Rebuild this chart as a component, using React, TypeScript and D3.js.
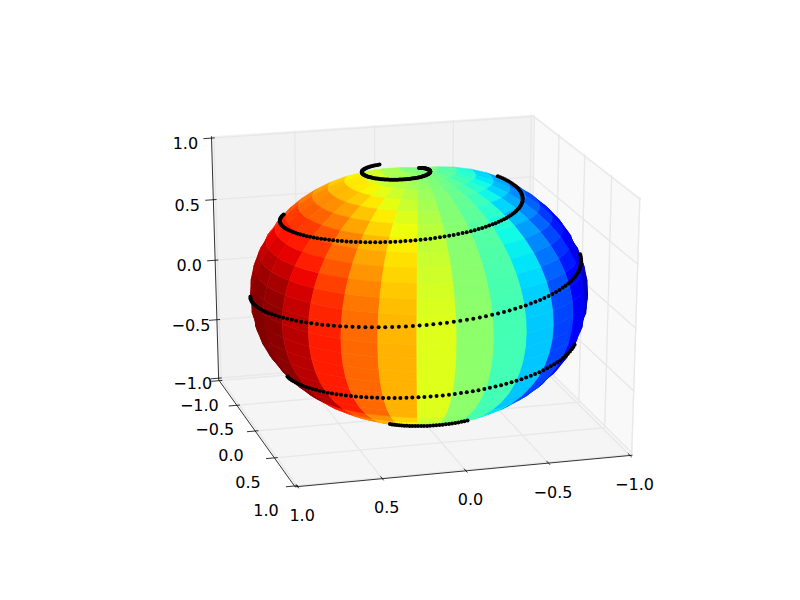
import React from "react";
import * as d3 from "d3";

const xTicks = [1, 0.5, 0, -0.5, -1];
const yTicks = [-1, -0.5, 0, 0.5, 1];
const zTicks = [-1, -0.5, 0, 0.5, 1];
const fmt = (v: number) => v.toFixed(1).replace("-", "\u2212");

const lonEdges = [-29.05, -16.2, -3.34, 9.52, 22.37, 35.23, 48.09, 60.95, 73.8, 86.66, 99.52, 112.37, 125.23, 138.09, 150.95, 163.8, 176.66, 189.5];
const bandAmp = [0.90, 0.975, 1, 0.98, 0.90, 0.76, 0.60, 0.44, 0.24, 0.04, -0.14, -0.36, -0.62, -0.78, -0.90, -0.975, -1];
const latEdges = [90, 83.57, 77.14, 70.71, 64.29, 57.86, 51.43, 45, 38.57, 32.14, 25.71, 19.29, 12.86, 6.43, 0, -6.43, -12.86, -19.29, -25.71, -32.14, -38.57, -45, -51.43, -57.86, -64.29, -70.71, -77.14, -83.57, -90];
const rowAmp = [0, 0.11, 0.22, 0.33, 0.43, 0.53, 0.62, 0.71, 0.78, 0.84, 0.90, 0.95, 0.98, 0.99, 1, 1, 1, 1, 1, 1, 1, 0.85, 0.72, 0.72, 0.5, 0.5, 0.3, 0.3];

// latitude of every sampled point of the spiral on the visible side, turn by turn
const turnA = [90.00, 89.77, 89.55, 89.32, 89.10, 88.87, 88.65, 88.42, 88.20, 87.97, 87.75, 87.52, 87.30, 87.07, 86.85, 86.62, 86.40, 86.17, 85.95, 85.72, 85.49, 85.27, 85.04, 84.82, 84.59, 84.37, 84.14, 83.92, 83.69, 83.47, 83.24, 83.02, 82.79, 82.57, 82.34, 82.12, 81.89, 81.66, 81.44, 81.21, 80.99, 80.76, 80.54, 80.31, 80.09, 79.86, 79.64, 79.41, 79.19, 78.96, 78.74, 78.51, 78.29, 78.06, 77.83, 77.61, 77.38, 77.16, 76.93, 76.71, 76.48, 76.26, 76.03, 75.81, 75.58, 75.36, 75.13, 74.91, 74.68, 74.46, 74.23, 74.00, 73.78, 73.55, 73.33, 73.10, 72.88, 72.65, 72.43, 72.20, 71.98, 71.75, 71.53, 71.30, 71.08, 70.85, 70.63, 70.40, 70.17, 69.95, 69.72, 69.50, 69.27, 69.05, 68.82, 68.60, 68.37, 68.15, 67.92, 67.70, 67.47, 67.25, 67.02, 66.80, 66.57, 66.35, 66.12, 65.90, 65.67];
const turnB = [56.43, 56.21, 55.98, 55.76, 55.53, 55.31, 55.08, 54.86, 54.63, 54.41, 54.18, 53.96, 53.73, 53.50, 53.28, 53.05, 52.83, 52.60, 52.38, 52.15, 51.93, 51.70, 51.48, 51.25, 51.03, 50.80, 50.58, 50.35, 50.13, 49.90, 49.67, 49.45, 49.22, 49.00, 48.77, 48.55, 48.32, 48.10, 47.87, 47.65, 47.42, 47.20, 46.97, 46.75, 46.52, 46.30, 46.07, 45.84, 45.62, 45.39, 45.17, 44.94, 44.72, 44.49, 44.27, 44.04, 43.82, 43.59, 43.37, 43.14, 42.92, 42.69, 42.47, 42.24, 42.01, 41.79, 41.56, 41.34, 41.11, 40.89, 40.66, 40.44, 40.21, 39.99, 39.76, 39.54, 39.31, 39.09, 38.86, 38.64, 38.41, 38.18, 37.96, 37.73, 37.51, 37.28, 37.06, 36.83, 36.61, 36.38, 36.16, 35.93, 35.71, 35.48, 35.26, 35.03, 34.81, 34.58, 34.35, 34.13, 33.90, 33.68, 33.45, 33.23, 33.00, 32.78];
const turnC = [17.46, 17.23, 17.01, 16.78, 16.56, 16.33, 16.11, 15.88, 15.66, 15.43, 15.21, 14.98, 14.75, 14.53, 14.30, 14.08, 13.85, 13.63, 13.40, 13.18, 12.95, 12.73, 12.50, 12.28, 12.05, 11.83, 11.60, 11.37, 11.15, 10.92, 10.70, 10.47, 10.25, 10.02, 9.80, 9.57, 9.35, 9.12, 8.90, 8.67, 8.45, 8.22, 8.00, 7.77, 7.54, 7.32, 7.09, 6.87, 6.64, 6.42, 6.19, 5.97, 5.74, 5.52, 5.29, 5.07, 4.84, 4.62, 4.39, 4.17, 3.94, 3.71, 3.49, 3.26, 3.04, 2.81, 2.59, 2.36, 2.14, 1.91, 1.69, 1.46, 1.24, 1.01, 0.79, 0.56, 0.34, 0.11, -0.11, -0.34, -0.56, -0.79, -1.01, -1.24];
const turnD = [-19.94, -20.16, -20.39, -20.61, -20.84, -21.06, -21.29, -21.51, -21.74, -21.96, -22.19, -22.41, -22.64, -22.86, -23.09, -23.31, -23.54, -23.76, -23.99, -24.21, -24.44, -24.66, -24.89, -25.12, -25.34, -25.57, -25.79, -26.02, -26.24, -26.47, -26.69, -26.92, -27.15, -27.37, -27.60, -27.82, -28.05, -28.27, -28.50, -28.72, -28.95, -29.17, -29.40, -29.62, -29.85, -30.07, -30.30, -30.52, -30.75, -30.98, -31.20, -31.43, -31.65, -31.88, -32.10, -32.33, -32.55, -32.78, -33.00, -33.23, -33.45, -33.68, -33.90, -34.13, -34.35, -34.58, -34.81, -35.03, -35.26, -35.48, -35.71];
const turnE = [-60.26, -60.49, -60.71, -60.94, -61.16, -61.39, -61.61, -61.84, -62.07, -62.29, -62.52, -62.74, -62.97, -63.19, -63.42, -63.64, -63.87, -64.09, -64.32, -64.54, -64.77, -64.99, -65.22, -65.44, -65.67, -65.89, -66.12, -66.34, -66.57, -66.79, -67.02, -67.24, -67.47];
const spiralLat = [...turnA, ...turnB, ...turnC, ...turnD, ...turnE];
const WINDING = 10, SPIRAL_PHASE = -727.5;

const ELEV = 21.5, AZIM = 74.5, DIST = 10, LIM = 1.015;
const el = (ELEV * Math.PI) / 180, az = (AZIM * Math.PI) / 180;
const n = [Math.cos(el) * Math.cos(az), Math.cos(el) * Math.sin(az), Math.sin(el)];
const u = [-Math.sin(az), Math.cos(az), 0];
const v = [n[1] * u[2] - n[2] * u[1], n[2] * u[0] - n[0] * u[2], n[0] * u[1] - n[1] * u[0]];
const dot = (a: number[], b: number[]) => a[0] * b[0] + a[1] * b[1] + a[2] * b[2];

const sx = d3.scaleLinear().domain([-0.05, 0.05]).range([419 - 171, 419 + 171]);
const sy = d3.scaleLinear().domain([-0.05, 0.05]).range([293.5 + 134.5, 293.5 - 134.5]);
const yLabelShift = d3.scaleLinear().domain([-1, 1]).range([-12, -20]);

function proj(x: number, y: number, z: number): [number, number] {
  const p = [x / LIM / 2, y / LIM / 2, z / LIM / 2];
  const w = DIST - dot(p, n);
  return [sx(dot(p, u) / w), sy(dot(p, v) / w)];
}
const path = (pts: [number, number, number][]) =>
  d3.line()(pts.map((p) => proj(p[0], p[1], p[2]))) as string;
const rad = (d: number) => (d * Math.PI) / 180;
const sph = (lat: number, lon: number): [number, number, number] => [
  Math.cos(rad(lat)) * Math.cos(rad(lon)),
  Math.cos(rad(lat)) * Math.sin(rad(lon)),
  Math.sin(rad(lat)),
];
const jetR = d3.scaleLinear().domain([0, 0.35, 0.66, 0.89, 1]).range([0, 0, 1, 1, 0.5]);
const jetG = d3.scaleLinear().domain([0, 0.125, 0.375, 0.64, 0.91, 1]).range([0, 0, 1, 1, 0, 0]);
const jetB = d3.scaleLinear().domain([0, 0.11, 0.34, 0.65, 1]).range([0.5, 1, 1, 0, 0]);
const jet = (t: number) => `rgb(${jetR(t) * 255},${jetG(t) * 255},${jetB(t) * 255})`;

const LO = LIM, HI = LIM;
export default function App() {
  const faces: { d: string; c: string; depth: number }[] = [];
  for (let j = 0; j < rowAmp.length; j++)
    for (let i = 0; i < bandAmp.length; i++) {
      const a = latEdges[j], b = latEdges[j + 1], l0 = lonEdges[i], l1 = lonEdges[i + 1];
      const depth = dot(sph((a + b) / 2, (l0 + l1) / 2), n);
      if (depth < -0.25) continue;
      faces.push({
        d: path([sph(a, l0), sph(a, (l0 + l1) / 2), sph(a, l1), sph(b, l1), sph(b, (l0 + l1) / 2), sph(b, l0)]) + "Z",
        c: jet(0.5 + 0.5 * bandAmp[i] * rowAmp[j]),
        depth,
      });
    }
  faces.sort((p, q) => p.depth - q.depth);
  const dots = spiralLat
    .map((lat) => sph(lat, WINDING * lat + SPIRAL_PHASE))
    .filter((s) => dot(s, n) > 0);
  return (
    <svg width={800} height={600} style={{ position: "absolute", left: 0, top: 0 }}>
      <rect width={800} height={600} fill="#fff" />
      <path d={path([[-LO, -LO, -LO], [LO, -LO, -LO], [LO, -LO, HI], [-LO, -LO, HI]]) + "Z"} fill="#f2f2f2" />
      <path d={path([[-LO, -LO, -LO], [-LO, HI, -LO], [-LO, HI, HI], [-LO, -LO, HI]]) + "Z"} fill="#f9f9f9" />
      <path d={path([[-LO, -LO, -LO], [LO, -LO, -LO], [LO, HI, -LO], [-LO, HI, -LO]]) + "Z"} fill="#f5f5f5" />
      <g fill="none" stroke="#e8e8e8" strokeWidth={1.4}>
        {xTicks.map((t) => <path key={"gx" + t} d={path([[t, HI, -LO], [t, -LO, -LO], [t, -LO, HI]])} />)}
        {yTicks.map((t) => <path key={"gy" + t} d={path([[HI, t, -LO], [-LO, t, -LO], [-LO, t, HI]])} />)}
        {zTicks.map((t) => <path key={"gz" + t} d={path([[HI, -LO, t], [-LO, -LO, t], [-LO, HI, t]])} />)}
      </g>
      <g fill="none" stroke="#000" strokeWidth={0.8}>
        <path d={path([[HI, HI, -LO], [-LO, HI, -LO]])} />
        <path d={path([[HI, HI, -LO], [HI, -LO, -LO]])} />
        <path d={path([[HI, -LO, -LO], [HI, -LO, HI]])} />
        {xTicks.map((t) => <path key={"tx" + t} d={path([[t, HI - 0.04, -LO], [t, HI + 0.03, -LO]])} />)}
        {yTicks.map((t) => <path key={"ty" + t} d={path([[HI - 0.02, t, -LO], [HI + 0.05, t, -LO]])} />)}
        {zTicks.map((t) => <path key={"tz" + t} d={path([[HI - 0.02, -LO, t], [HI + 0.05, -LO, t]])} />)}
      </g>
      <g>
        {faces.map((f, i) => <path key={i} d={f.d} fill={f.c} stroke={f.c} strokeWidth={0.6} />)}
      </g>
      <g fill="#000">
        {dots.map((s, i) => {
          const p = proj(s[0], s[1], s[2]);
          return <circle key={i} cx={p[0]} cy={p[1]} r={2} />;
        })}
      </g>
      <g fontFamily="'DejaVu Sans'" fontSize={16} fill="#000" textAnchor="middle" dominantBaseline="central">
        {xTicks.map((t) => { const p = proj(t, HI, -LO); return <text key={"lx" + t} x={p[0] + 4.5} y={p[1] + 29}>{fmt(t)}</text>; })}
        {yTicks.map((t) => { const p = proj(HI + 0.05, t, -LO); return <text key={"ly" + t} x={p[0] + yLabelShift(t)} y={p[1] + 24}>{fmt(t)}</text>; })}
        {zTicks.map((t) => { const p = proj(HI + 0.05, -LO, t); return <text key={"lz" + t} x={p[0] - 18} y={p[1] + 5}>{fmt(t)}</text>; })}
      </g>
    </svg>
  );
}
